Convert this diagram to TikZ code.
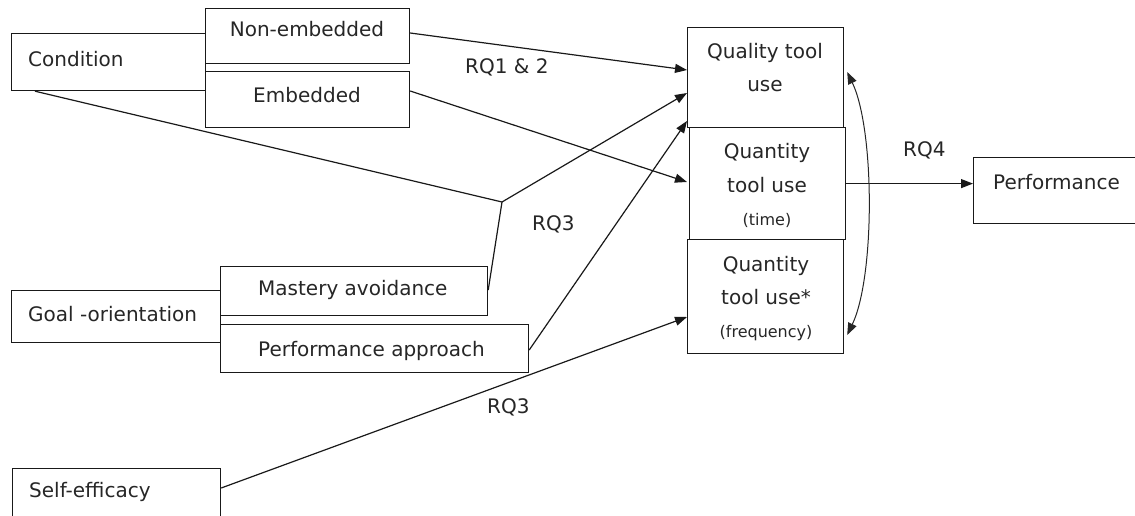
\documentclass[tikz,border=0pt]{standalone}
\usepackage{fontspec}
\setmainfont{DejaVu Sans}
\usetikzlibrary{arrows.meta,calc}

\begin{document}
\begin{tikzpicture}[x=1pt,y=-1pt,
  box/.style={draw=black!90,line width=1.2pt,rectangle,inner sep=0pt,anchor=north west},
  txt/.style={inner sep=0pt,anchor=base west,font=\fontsize{20}{24}\selectfont,text=black!85},
  ctxt/.style={inner sep=0pt,anchor=base,font=\fontsize{20}{24}\selectfont,text=black!85},
  small/.style={inner sep=0pt,anchor=base,font=\fontsize{16}{19}\selectfont,text=black!85},
  link/.style={draw=black!90,line width=1.2pt},
  arrow/.style={link,-{Triangle[length=12pt,width=9pt]}},
]
\useasboundingbox (0,0) rectangle (1135,516);
\clip (0,0) rectangle (1135,516);

% left-hand factors
\node[box,minimum width=194pt,minimum height=57pt] (cond) at (11,33) {};
\node[box,minimum width=204pt,minimum height=55pt] (nonemb) at (205,8) {};
\node[box,minimum width=204pt,minimum height=56pt] (emb) at (205,71) {};
\node[box,minimum width=209pt,minimum height=52pt] (goal) at (11,290) {};
\node[box,minimum width=267pt,minimum height=49pt] (mast) at (220,266) {};
\node[box,minimum width=308pt,minimum height=48pt] (perfapp) at (220,324) {};
\node[box,minimum width=208pt,minimum height=70pt] (self) at (12,468) {};

% tool-use outcomes
\node[box,minimum width=156pt,minimum height=100pt] (qual) at (687,27) {};
\node[box,minimum width=156pt,minimum height=112pt] (qtime) at (689,127) {};
\node[box,minimum width=156pt,minimum height=114pt] (qfreq) at (687,239) {};
\node[box,minimum width=180pt,minimum height=66pt] (perf) at (973,157) {};

% box texts
\node[txt] (tcond) at (28,67) {Condition};
\node[ctxt] (tnonemb) at (307,37) {Non-embedded};
\node[ctxt] (temb) at (307,103) {Embedded};
\node[txt] (tgoal) at (28,321) {Goal -orientation};
\node[txt] (tmast) at (258,295) {Mastery avoidance};
\node[txt] (tperfapp) at (258,356) {Performance approach};
\node[txt] (tself) at (29,497) {Self-efficacy};
\node[ctxt] (tqual1) at (765,59) {Quality tool};
\node[ctxt] (tqual2) at (765,92) {use};
\node[ctxt] (tqt1) at (767,158) {Quantity};
\node[ctxt] (tqt2) at (767,192) {tool use};
\node[small] (tqt3) at (767,225) {(time)};
\node[ctxt] (tqf1) at (766,271) {Quantity};
\node[ctxt] (tqf2) at (766,304) {tool use*};
\node[small] (tqf3) at (766,337) {(frequency)};
\node[txt] (tperf) at (993,189) {Performance};

% path labels
\node[txt] (rq12) at (465,74) {RQ1 \& 2};
\node[txt] (rq3a) at (532,230) {RQ3};
\node[txt] (rq3b) at (487,413) {RQ3};
\node[txt] (rq4) at (903,157) {RQ4};

% moderation junction
\coordinate (junc) at (502,202);

% connectors
\draw[link] ($(cond.south west)+(24,0)$) -- (junc);
\draw[link] ($(mast.north east)+(0,24)$) -- (junc);
\draw[arrow] (junc) -- ($(qual.north west)+(0,66)$);
\draw[arrow] ($(nonemb.north east)+(0,25)$) -- ($(qual.north west)+(0,43)$);
\draw[arrow] ($(emb.north east)+(0,20)$) -- ($(qtime.north west)+(-2,55)$);
\draw[arrow] ($(perfapp.north east)+(0,26)$) -- ($(qual.north west)+(0,94)$);
\draw[arrow] ($(self.north east)+(0,20)$) -- ($(qfreq.north west)+(0,78)$);
\draw[arrow] (qtime.east) -- (perf.west |- qtime.east);

% correlation between quality and frequency of tool use
\draw[draw=black!85,line width=1pt,{Triangle[length=12pt,width=9pt]}-{Triangle[length=12pt,width=9pt]}]
  ($(qual.north east)+(3,45)$) .. controls (875,130) and (875,277) .. ($(qfreq.north east)+(3,96)$);
\end{tikzpicture}
\end{document}
